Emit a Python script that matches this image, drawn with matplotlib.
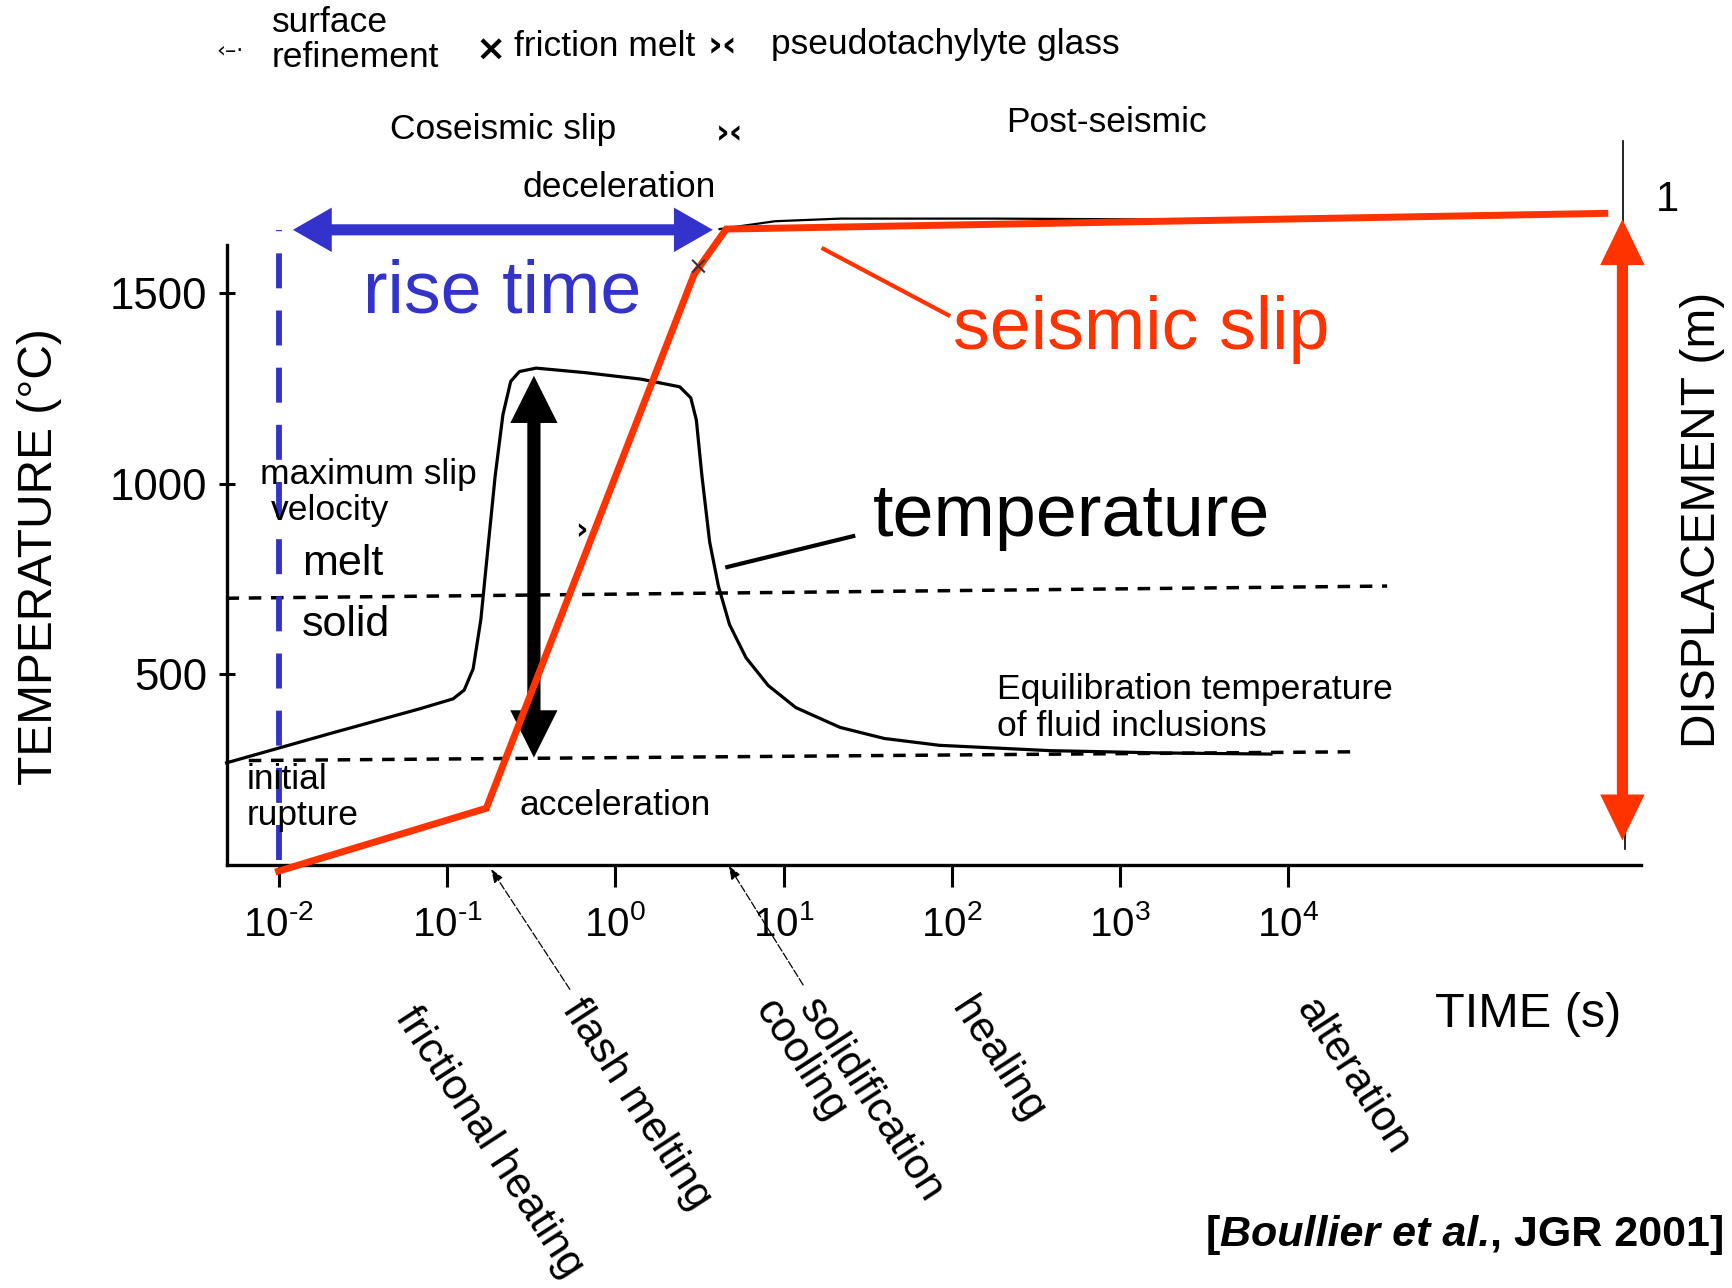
import numpy as np
import matplotlib
matplotlib.use("Agg")
import matplotlib.pyplot as plt
from matplotlib.offsetbox import TextArea, HPacker, AnnotationBbox

plt.rcParams['font.family'] = ['Liberation Sans', 'DejaVu Sans']
plt.rcParams['mathtext.fontset'] = 'custom'
plt.rcParams['mathtext.rm'] = 'Liberation Sans'
plt.rcParams['mathtext.it'] = 'Liberation Sans:italic'
plt.rcParams['mathtext.bf'] = 'Liberation Sans:bold'
plt.rcParams['mathtext.default'] = 'regular'

# ---------------- data ----------------
# temperature history: log10(time s), temperature (deg C)
temp_log_t = [-2.309, -1.685, -1.160, -0.963, -0.897, -0.844, -0.798, -0.759, -0.713,
              -0.667, -0.621, -0.569, -0.470, -0.175, 0.154, 0.383, 0.449, 0.482,
              0.515, 0.561, 0.613, 0.679, 0.777, 0.909, 1.073, 1.336, 1.598, 1.926,
              2.583, 3.240, 3.896]
temp_T = [267, 345, 409, 435, 458, 514, 644, 818, 1021,
          1181, 1268, 1294, 1303, 1291, 1274, 1254, 1225, 1167,
          1021, 847, 731, 630, 543, 470, 412, 360, 331, 313,
          299, 293, 290]

# seismic slip (red): log10(time s), displacement (m)
slip_log_t = [-2.0, -0.766, 0.469, 0.659, 5.879]
slip_disp = [-0.010, 0.086, 0.902, 0.971, 0.995]

# original (black) slip curve visible above the red one
orig_slip_log_t = [0.62, 0.95, 1.34, 2.26, 3.0, 4.0]
orig_slip_disp = [0.971, 0.983, 0.987, 0.987, 0.986, 0.985]

# melt/solid boundary and fluid-inclusion equilibration temperature (dashed)
melt_log_t = [-2.309, 4.586]
melt_T = [699, 731]
fluid_log_t = [-2.177, 4.389]
fluid_T = [273, 296]

xtick_exp = [-2, -1, 0, 1, 2, 3, 4]
ytick_vals = [500, 1000, 1500]

process_labels = ["frictional heating", "flash melting", "cooling", "solidification",
                  "healing", "alteration"]

BLUE = "#3333CC"
RED = "#FF3300"

# ---------------- figure ----------------
W, H = 1568.0, 1165.0   # reference display grid used for placement
fig = plt.figure(figsize=(17.33, 12.88), dpi=100)
def fx(px):
    return px / W
def fy(py):
    return 1 - py / H

ax = fig.add_axes([fx(205), fy(782), fx(1485) - fx(205), fy(222) - fy(782)])
ax.set_xscale('log')
ax.set_xlim(10 ** -2.309, 10 ** 6.096)
ax.set_ylim(0, 1625)
for s in ['top', 'right']:
    ax.spines[s].set_visible(False)
for s in ['left', 'bottom']:
    ax.spines[s].set_linewidth(2.4)

ax.set_xticks([10.0 ** e for e in xtick_exp])
ax.set_xticklabels([r'$10^{%s}$' % (('\u2010' + str(-e)) if e < 0 else str(e)) for e in xtick_exp],
                   fontsize=29)
ax.xaxis.set_minor_locator(matplotlib.ticker.NullLocator())
ax.tick_params(axis='x', direction='out', length=16, width=2.2, pad=13)
ax.set_yticks(ytick_vals)
ax.set_yticklabels([str(v) for v in ytick_vals], fontsize=31.5)
ax.tick_params(axis='y', direction='inout', length=12, width=2.2, pad=8)

tt = lambda lst: [10.0 ** v for v in lst]

# dashed horizontal reference lines
ax.plot(tt(melt_log_t), melt_T, color='black', lw=2.5, ls=(0, (3.6, 2.8)), clip_on=False)
ax.plot(tt(fluid_log_t), fluid_T, color='black', lw=2.5, ls=(0, (3.6, 2.8)), clip_on=False)

# temperature curve
ax.plot(tt(temp_log_t), temp_T, color='black', lw=2.3, clip_on=False, solid_joinstyle='round')

# blue dashed vertical at rupture onset
ax.plot([1e-2, 1e-2], [12, 1666], color=BLUE, lw=4.2, ls=(0, (6, 3.8)), clip_on=False)

# displacement axis (twin)
ax2 = ax.twinx()
ax2.set_ylim(0, 0.946)
ax2.axis('off')
ax2.plot(tt(orig_slip_log_t), orig_slip_disp, color='black', lw=1.6, clip_on=False)
ax2.plot(tt(slip_log_t), slip_disp, color=RED, lw=5.0, clip_on=False, solid_joinstyle='miter')
# thin scanned axis pieces at the right
ax2.plot([10 ** 5.99, 10 ** 5.99], [0.983, 1.105], color='black', lw=1.2, clip_on=False)
ax2.plot([10 ** 6.0, 10 ** 6.0], [0.024, 0.06], color='black', lw=1.2, clip_on=False)

def double_arrow(axis, p1, p2, color, shaft, hl, hw):
    axis.annotate('', xy=p2, xytext=p1, xycoords='data',
                  arrowprops=dict(arrowstyle='-', lw=shaft, color=color,
                                  shrinkA=hl * 0.8, shrinkB=hl * 0.8), annotation_clip=False)
    for a, b in [(p1, p2), (p2, p1)]:
        axis.annotate('', xy=b, xytext=a, xycoords='data',
                      arrowprops=dict(arrowstyle='-|>,head_length=%g,head_width=%g' % (hl, hw),
                                      lw=0, color=color, mutation_scale=1,
                                      shrinkA=0, shrinkB=0), annotation_clip=False)

# rise time arrow
double_arrow(ax, (10 ** -1.915, 1666), (10 ** 0.580, 1666), BLUE, 8, 28, 16)
# temperature jump arrow
double_arrow(ax, (10 ** -0.483, 281), (10 ** -0.483, 1283), 'black', 9.5, 34, 17)
# displacement arrow
double_arrow(ax2, (10 ** 5.984, 0.037), (10 ** 5.984, 0.986), RED, 8, 33, 16)

# pointer lines for labels
ax.plot([10 ** 1.237, 10 ** 1.979], [1616, 1442], color=RED, lw=3.0, clip_on=False)
ax.plot([10 ** 0.666, 10 ** 1.414], [781, 862], color='black', lw=3.0, clip_on=False)

# ---------------- texts ----------------
S = 25.5
def t(px, py, s, **kw):
    kw.setdefault('fontsize', S)
    kw.setdefault('va', 'center')
    return fig.text(fx(px), fy(py), s, **kw)

t(246, 20, "surface")
t(246, 52, "refinement")
t(196, 46, "\u2039\u2013\u00b7", fontsize=16, family=['DejaVu Sans'])
t(430, 45, "\u00d7", fontsize=26, weight='bold', family=['DejaVu Sans'])
t(465, 42, "friction melt")
t(640, 42, "\u203a\u2039", fontsize=26, weight='bold', family=['DejaVu Sans'])
t(698, 40, "pseudotachylyte glass")
t(353, 117, "Coseismic slip")
t(648, 121, "\u203a\u2039", fontsize=24, weight='bold', family=['DejaVu Sans'])
t(910, 111, "Post-seismic")
t(473, 170, "deceleration")
t(235, 429, "maximum slip")
t(245, 462, "velocity")
t(273, 510, "melt", fontsize=31)
t(273, 565, "solid", fontsize=31)
t(223, 705, "initial")
t(223, 738, "rupture")
t(470, 729, "acceleration")
t(902, 624, "Equilibration temperature")
t(902, 657, "of fluid inclusions")
t(1498, 181, "1", fontsize=30)

t(328, 283, "rise time", fontsize=53, color=BLUE, va='baseline')
t(862, 316, "seismic slip", fontsize=53, color=RED, va='baseline')
t(790, 485, "temperature", fontsize=53, va='baseline')

t(36, 503, "TEMPERATURE (\u00b0C)", fontsize=34.5, rotation=90, ha='center')
t(1540, 470, "DISPLACEMENT (m)", fontsize=34.5, rotation=90, ha='center')
t(1298, 918, "TIME (s)", fontsize=35)

# small marks on the slip curve from the original figure
t(520, 480, "\u203a", fontsize=22, weight='bold', family=['DejaVu Sans'])
t(622, 242, "\u00d7", fontsize=18, family=['DejaVu Sans'], color='#333333')

# rotated process labels below the time axis
rot_pos = [(357, 920), (508, 913), (682, 913), (722, 912), (860, 912), (1172, 912)]
for lab, (px, py) in zip(process_labels, rot_pos):
    fig.text(fx(px), fy(py), lab, fontsize=31, rotation=-57, rotation_mode='anchor',
             ha='left', va='baseline')

# thin pointer arrows from labels to the axis
for (x0, y0), (x1, y1) in [((517, 897), (443, 784)), ((728, 893), (658, 781))]:
    fig.patches.append(matplotlib.patches.FancyArrowPatch(
        (fx(x0), fy(y0)), (fx(x1), fy(y1)), transform=fig.transFigure,
        arrowstyle='-|>,head_length=8,head_width=3', mutation_scale=1,
        lw=0.9, color='black', ls=(0, (6, 2))))

# citation
bold = dict(fontsize=31, weight='bold', family=['Liberation Sans'])
boldit = dict(fontsize=31, weight='bold', style='italic', family=['Liberation Sans'])
pack = HPacker(children=[TextArea("[", textprops=bold),
                         TextArea("Boullier et al.", textprops=boldit),
                         TextArea(", JGR 2001]", textprops=bold)],
               sep=0, pad=0, align='baseline')
ab = AnnotationBbox(pack, (fx(1560), fy(1117)), xycoords='figure fraction',
                    box_alignment=(1, 0.5), frameon=False, pad=0)
fig.add_artist(ab)

fig.savefig("out.png", dpi=100)
